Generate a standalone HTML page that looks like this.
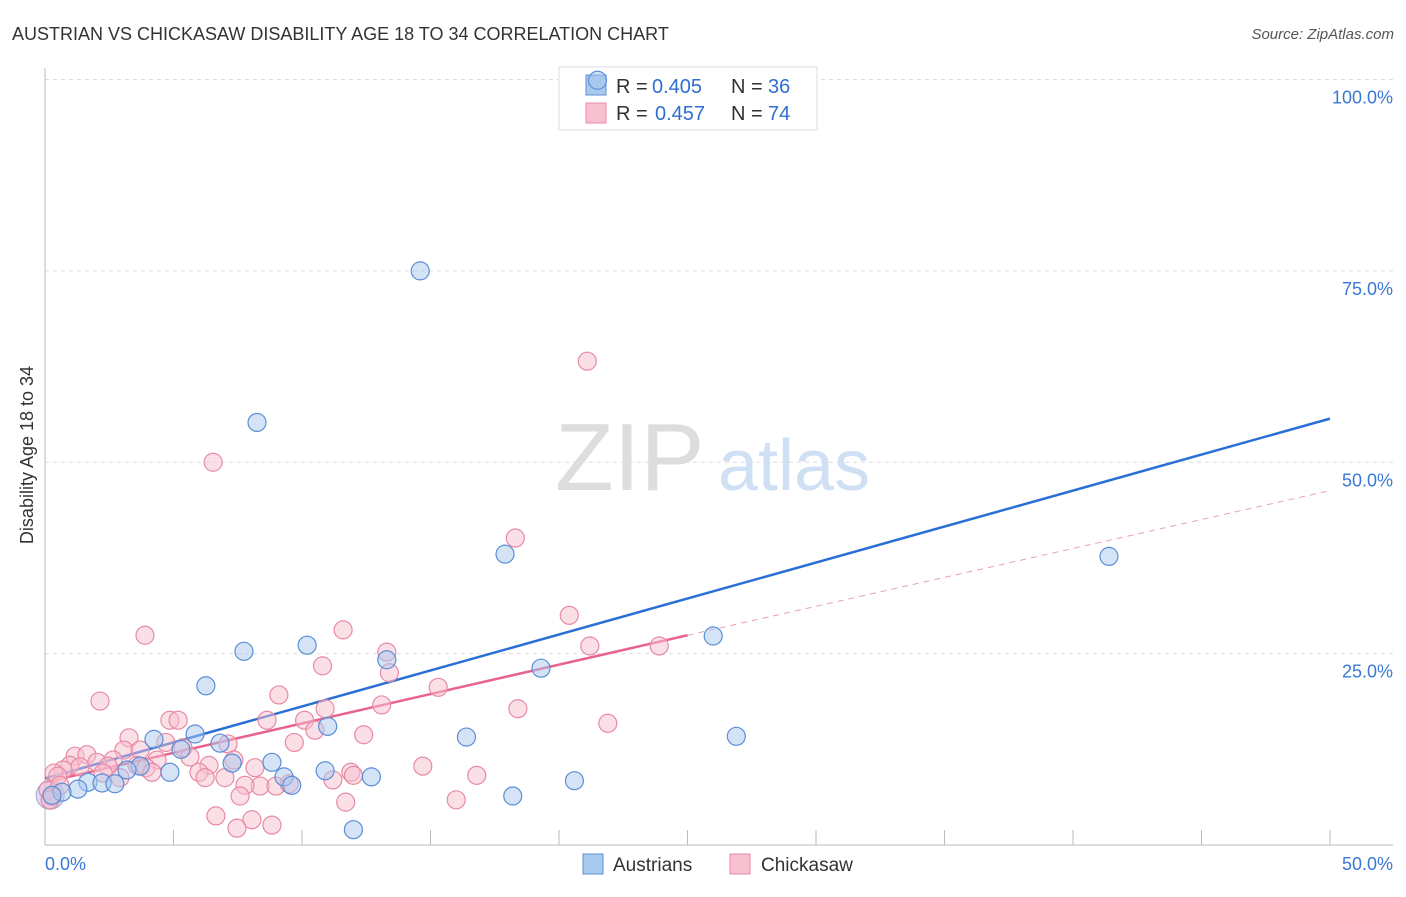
<!DOCTYPE html>
<html><head><meta charset="utf-8"><style>
body{margin:0;background:#fff;font-family:"Liberation Sans",sans-serif}
svg text{font-family:"Liberation Sans",sans-serif}
</style></head><body>
<svg width="1406" height="892" viewBox="0 0 1406 892">
<text x="12" y="40" font-size="18" fill="#333">AUSTRIAN VS CHICKASAW DISABILITY AGE 18 TO 34 CORRELATION CHART</text>
<text x="1394" y="39" font-size="15" fill="#555" text-anchor="end" font-style="italic">Source: ZipAtlas.com</text>
<g>
<text x="555" y="490" font-size="96" fill="#ddd" font-family="Liberation Serif, serif">ZIP</text>
<text x="718" y="490" font-size="72" fill="#cfe0f5">atlas</text></g>
<g id="grid"></g><g id="axes"></g>
<g>
<rect x="559" y="67" width="258" height="63" fill="#fff" stroke="#ddd"/>
<rect x="586" y="75" width="20" height="20" fill="#a9c8ee" stroke="#5b8fd6"/>
<rect x="586" y="103" width="20" height="20" fill="#f7c0cf" stroke="#e88aa5"/>
<text x="616" y="93" font-size="20" fill="#333">R =</text>
<text x="652" y="93" font-size="20" fill="#2f6fd0">0.405</text>
<text x="731" y="93" font-size="20" fill="#333">N =</text>
<text x="768" y="93" font-size="20" fill="#2f6fd0">36</text>
<text x="616" y="120" font-size="20" fill="#333">R =</text>
<text x="655" y="120" font-size="20" fill="#2f6fd0">0.457</text>
<text x="731" y="120" font-size="20" fill="#333">N =</text>
<text x="768" y="120" font-size="20" fill="#2f6fd0">74</text>
</g>
<g id="lines"></g><g id="pts"></g>
<text transform="translate(33,455) rotate(-90)" font-size="18" fill="#333" text-anchor="middle">Disability Age 18 to 34</text>
<g>
<rect x="583" y="854" width="20" height="20" fill="#a9c8ee" stroke="#5b8fd6"/>
<text x="613" y="871" font-size="19" fill="#333">Austrians</text>
<rect x="730" y="854" width="20" height="20" fill="#f7c0cf" stroke="#e88aa5"/>
<text x="761" y="871" font-size="19" fill="#333">Chickasaw</text>
</g>
</svg>
<script>
const xTicks=[0,5,10,15,20,25,30,35,40,45,50];
const yTicks=[25,50,75,100];
const yTickLabels=["25.0%","50.0%","75.0%","100.0%"];
const blueX=[21.5,14.6,8.25,17.9,41.4,26.0,10.2,7.74,13.3,19.3,6.26,11.0,5.84,4.24,26.9,16.4,5.29,6.81,7.28,8.83,3.7,4.86,3.19,10.9,9.3,9.6,12.7,1.67,2.22,2.72,20.6,1.28,0.66,0.27,18.2,12.0];
const blueY=[99.9,75.0,55.2,38.0,37.7,27.3,26.1,25.3,24.2,23.1,20.8,15.5,14.5,13.8,14.2,14.1,12.5,13.3,10.7,10.8,10.3,9.5,9.8,9.7,8.9,7.8,8.9,8.2,8.1,8.0,8.4,7.3,6.9,6.5,6.4,2.0];
const pinkX=[21.1,6.54,18.3,20.4,11.6,3.89,21.2,23.9,13.3,10.8,13.4,15.3,9.1,2.14,13.1,18.4,10.9,10.1,4.86,5.18,8.64,21.9,10.5,12.4,3.27,4.7,7.12,9.7,5.37,3.07,3.7,1.17,1.63,5.64,4.36,7.35,2.65,2.02,0.97,1.36,2.45,3.58,3.93,6.38,0.7,8.17,14.7,0.35,2.26,4.16,5.99,11.9,16.8,0.5,7.0,12.0,6.23,11.2,8.37,8.99,7.78,9.5,0.12,0.27,7.59,11.7,16.0,6.65,8.05,8.83,7.47,0.2,0.58,2.92];
const pinkY=[63.2,50.0,40.1,30.0,28.1,27.4,26.0,26.0,25.2,23.4,22.5,20.6,19.6,18.8,18.3,17.8,17.8,16.3,16.3,16.3,16.3,15.9,15.0,14.4,14.0,13.4,13.2,13.4,12.7,12.4,12.4,11.6,11.8,11.5,11.1,11.1,11.1,10.8,10.4,10.2,10.3,10.4,10.1,10.4,9.8,10.1,10.3,9.4,9.4,9.5,9.5,9.5,9.1,9.0,8.8,9.1,8.8,8.5,7.7,7.7,7.8,8.0,7.2,6.3,6.4,5.6,5.9,3.8,3.3,2.6,2.2,5.9,7.8,8.8];
const blueLine=[[0,8.7],[50,55.7]];
const pinkLine=[[0,8.2],[25,27.4]];
const pinkDash=[[25,27.4],[50,46.3]];
const sx=v=>45+v/50*1285, sy=v=>845-v/100*765.5;
const NS="http://www.w3.org/2000/svg";
function mk(t,a,p){const e=document.createElementNS(NS,t);for(const k in a)e.setAttribute(k,a[k]);p.appendChild(e);return e;}
const grid=document.getElementById('grid'),axes=document.getElementById('axes'),lines=document.getElementById('lines'),pts=document.getElementById('pts');
yTicks.forEach((v,i)=>{
 const l=mk('line',{x1:45,x2:1393,y1:sy(v),y2:sy(v),stroke:'#ddd','stroke-dasharray':'4,4'},grid);
 
 
 const t=mk('text',{x:1393,y:sy(v)+24,'font-size':18,fill:'#3a78d6','text-anchor':'end'},axes);
 t.textContent=yTickLabels[i];
 
 
});
const ya=mk('line',{x1:45,x2:45,y1:68,y2:845,stroke:'#bbb'},axes);


const xa=mk('line',{x1:45,x2:1393,y1:845,y2:845,stroke:'#bbb'},axes);


xTicks.slice(1).forEach(v=>{
 const t=mk('line',{x1:sx(v),x2:sx(v),y1:830,y2:845,stroke:'#bbb'},axes);
 
 
});
const x0=mk('text',{x:45,y:870,'font-size':18,fill:'#3a78d6'},axes);x0.textContent='0.0%';


const x1=mk('text',{x:1393,y:870,'font-size':18,fill:'#3a78d6','text-anchor':'end'},axes);x1.textContent='50.0%';


function drawPts(X,Y,fill,stroke,name){X.forEach((x,i)=>{
 const c=mk('circle',{cx:sx(x),cy:sy(Y[i]),r:9,fill:fill,'fill-opacity':0.5,stroke:stroke,'stroke-width':1.2},pts);
 
 
});}
const big=mk('circle',{cx:sx(0.2),cy:sy(6.5),r:14,fill:'#c8b8e0','fill-opacity':0.5,stroke:'#9aa8dc'},pts);


drawPts(pinkX,pinkY,'#f7c0cf','#e88aa5','chickasaw-point');
drawPts(blueX,blueY,'#a9c8ee','#5b8fd6','austrian-point');
function ln(d,st,w,dash,name){const l=mk('line',{x1:sx(d[0][0]),y1:sy(d[0][1]),x2:sx(d[1][0]),y2:sy(d[1][1]),stroke:st,'stroke-width':w},lines);
 if(dash)l.setAttribute('stroke-dasharray',dash);
 
 }
ln(blueLine,'#2a6fd6',2.5,null,'austrian-trendline');
ln(pinkLine,'#e8638e',2.5,null,'chickasaw-trendline');
ln(pinkDash,'#e8a0b5',1,'6,5','chickasaw-trend-extension');
</script>
</body></html>
